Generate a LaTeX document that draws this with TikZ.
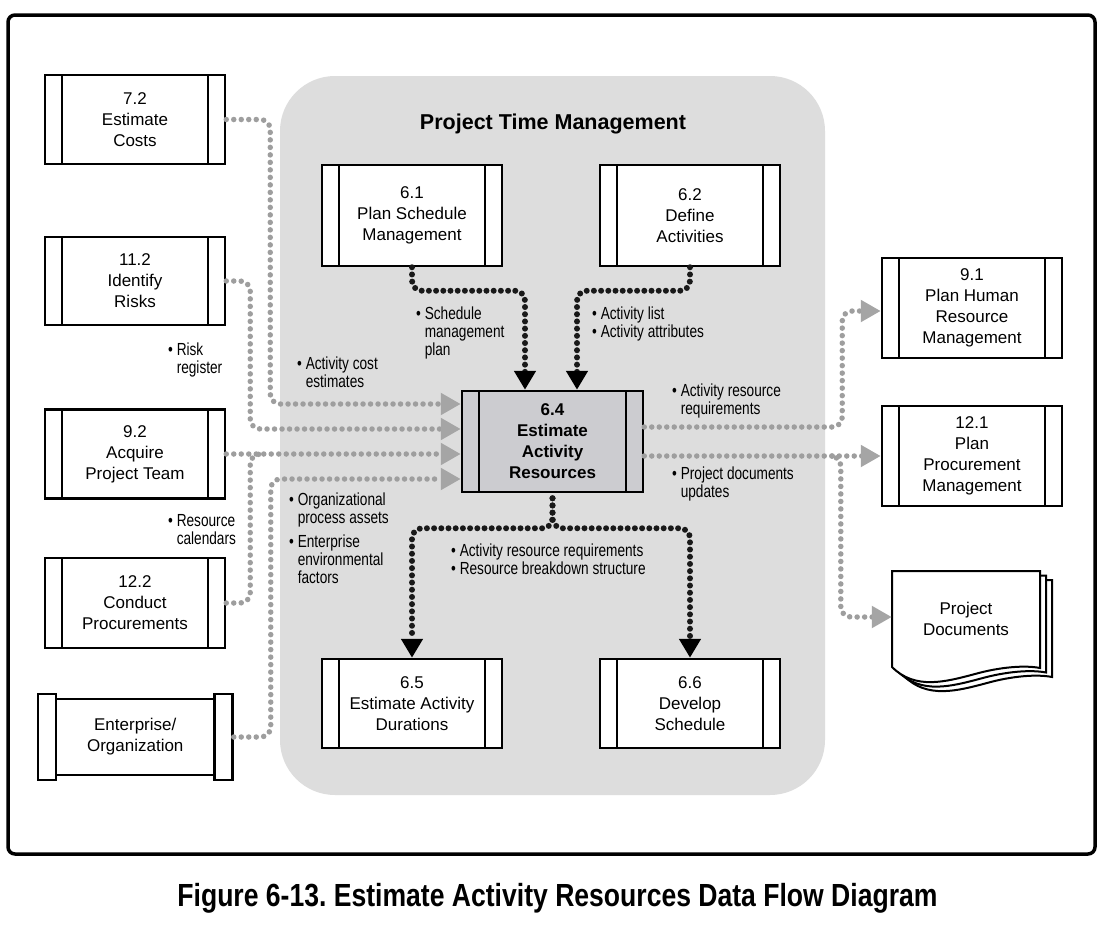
\documentclass[tikz,border=0pt]{standalone}
\usepackage{fontspec}
\setmainfont{Liberation Sans}
\newfontfamily\condf[FakeStretch=0.78]{Liberation Sans}
\newfontfamily\capf[FakeStretch=0.83]{Liberation Sans}
\usetikzlibrary{arrows.meta}
\frenchspacing
\definecolor{regiongray}{RGB}{221,221,221}
\definecolor{dotgray}{RGB}{158,158,158}
\definecolor{tipgray}{RGB}{165,165,165}
\definecolor{boxgray}{RGB}{204,204,208}
\definecolor{dotblack}{RGB}{25,25,25}
\newcommand{\blt}{\textbullet\ }
\newcommand{\indt}{\hphantom{\textbullet\ }}
\tikzset{
  proc/.style={draw, line width=2.5pt, fill=white, inner sep=0pt, minimum width=180pt,
    minimum height=89pt, align=center, font=\fontsize{17}{21}\selectfont,
    path picture={\draw[line width=2.5pt]
      ([xshift=17pt]path picture bounding box.north west) -- ([xshift=17pt]path picture bounding box.south west)
      ([xshift=-17pt]path picture bounding box.north east) -- ([xshift=-17pt]path picture bounding box.south east);}},
  lbl/.style={inner sep=0pt, anchor=north west, align=left, font=\condf\fontsize{17.5}{18}\selectfont},
  gdot/.style={draw=dotgray, line width=5.5pt, dash pattern=on 0pt off 7.5pt, line cap=round,
    rounded corners=10pt, -{Triangle[length=20pt,width=21pt,color=tipgray]}},
  gdotplain/.style={draw=dotgray, line width=5.5pt, dash pattern=on 0pt off 7.5pt, line cap=round,
    rounded corners=10pt},
  bdot/.style={draw=dotblack, line width=6pt, dash pattern=on 0pt off 7.2pt, line cap=round,
    rounded corners=10pt, -{Triangle[length=19pt,width=21pt,color=black]}},
  page/.style={draw, line width=2pt, fill=white},
}
\begin{document}
\begin{tikzpicture}[x=1pt,y=-1pt]
\useasboundingbox (0,0) rectangle (1117,929);
\fill[white] (0,0) rectangle (1117,929);
% outer frame
\draw[line width=3.5pt, rounded corners=7pt] (8,15) rectangle (1095,854);
% gray region
\fill[regiongray, rounded corners=55pt] (280,76) rectangle (825,795);
\node[font=\bfseries\fontsize{21.5}{24}\selectfont] (title) at (553,124) {Project Time Management};

% left boxes
\node[proc] (c72) at (135,119.5) {7.2\\Estimate\\Costs};
\node[proc, minimum height=88pt] (r112) at (135,281) {11.2\\Identify\\Risks};
\node[proc] (a92) at (135,454) {9.2\\Acquire\\Project Team};
\node[proc, minimum height=90pt] (p122) at (135,603) {12.2\\Conduct\\Procurements};
% enterprise / organization
\node[draw, line width=2.5pt, fill=white, inner sep=0pt, minimum width=18pt, minimum height=86pt] (eol) at (47,737) {};
\node[draw, line width=2.5pt, fill=white, inner sep=0pt, minimum width=18pt, minimum height=86pt] (eor) at (223.5,737) {};
\node[draw, line width=2.5pt, fill=white, inner sep=0pt, minimum width=158.5pt, minimum height=76pt,
  align=center, font=\fontsize{17}{21}\selectfont] (eo) at (135.25,737) {Enterprise/\\Organization};

% inner boxes
\node[proc, minimum height=101pt] (p61) at (412,215.5) {6.1\\Plan Schedule\\Management};
\node[proc, minimum height=101pt] (d62) at (690,215.5) {6.2\\Define\\Activities};
\node[proc, minimum height=101pt, minimum width=181pt, fill=boxgray,
  font=\bfseries\fontsize{17}{21}\selectfont] (e64) at (552.5,441.5) {6.4\\Estimate\\Activity\\Resources};
\node[proc] (e65) at (412,703.5) {6.5\\Estimate Activity\\Durations};
\node[proc] (d66) at (690,703.5) {6.6\\Develop\\Schedule};

% right boxes
\node[proc, minimum height=100pt] (h91) at (972,308) {9.1\\Plan Human\\Resource\\Management};
\node[proc, minimum height=100pt] (p121) at (972,456) {12.1\\Plan\\Procurement\\Management};

% project documents
\begin{scope}[shift={(12,9)}]
\draw[page] (892,571) -- (1040,571) -- (1040,668) .. controls (1025,665) and (1000,667) .. (975,674)
  .. controls (945,682) and (915,690) .. (892,667) -- cycle;
\end{scope}
\begin{scope}[shift={(6,4.5)}]
\draw[page] (892,571) -- (1040,571) -- (1040,668) .. controls (1025,665) and (1000,667) .. (975,674)
  .. controls (945,682) and (915,690) .. (892,667) -- cycle;
\end{scope}
\draw[page] (892,571) -- (1040,571) -- (1040,668) .. controls (1025,665) and (1000,667) .. (975,674)
  .. controls (945,682) and (915,690) .. (892,667) -- cycle;
\node[inner sep=0pt, minimum width=148pt, minimum height=96pt, align=center,
  font=\fontsize{17}{21}\selectfont] (docs) at (966,619) {Project\\Documents};

% gray input connectors
\draw[gdot] (c72.east) -- ++(44,0) |- ([yshift=37.5pt]e64.west);
\draw[gdot] (r112.east) -- ++(24,0) |- ([yshift=12.5pt]e64.west);
\draw[gdot] (a92.east) -- ([yshift=-12.5pt]e64.west);
\draw[gdotplain] (p122.east) -| ([xshift=24pt]a92.east) -- ([xshift=36pt]a92.east);
\draw[gdot] (eor.east) -- ++(37,0) |- ([yshift=-37.5pt]e64.west);

% gray output connectors
\draw[gdot] ([yshift=14.5pt]e64.east) -- ++(198,0) |- ([yshift=-3pt]h91.west);
\draw[gdot] ([yshift=-14.5pt]e64.east) -- (p121.west);
\draw[gdot] ([xshift=188pt,yshift=-14.5pt]e64.east) -| ([xshift=-51pt,yshift=2pt]docs.west) -- ([yshift=2pt]docs.west);

% black connectors
\draw[bdot] (p61.south) |- ([xshift=-27.5pt,yshift=99pt]e64.north) -- ([xshift=-27.5pt]e64.north);
\draw[bdot] (d62.south) |- ([xshift=24.5pt,yshift=99pt]e64.north) -- ([xshift=24.5pt]e64.north);
\draw[bdot] ([yshift=-5pt]e64.south) -- ([yshift=-35pt]e64.south) -| (e65.north);
\draw[bdot] ([yshift=-5pt]e64.south) -- ([yshift=-35pt]e64.south) -| (d66.north);

% labels
\node[lbl] (lsched) at (416,307) {\blt Schedule\\\indt management\\\indt plan};
\node[lbl] (lact) at (592,307) {\blt Activity list\\\blt Activity attributes};
\node[lbl] (lcost) at (297,357) {\blt Activity cost\\\indt estimates};
\node[lbl] (lrisk) at (168,343) {\blt Risk\\\indt register};
\node[lbl] (lopa) at (289,493) {\blt Organizational\\\indt process assets};
\node[lbl] (leef) at (289,535) {\blt Enterprise\\\indt environmental\\\indt factors};
\node[lbl] (lcal) at (168,514) {\blt Resource\\\indt calendars};
\node[lbl] (lrbs) at (451,544) {\blt Activity resource requirements\\\blt Resource breakdown structure};
\node[lbl] (lreq) at (672,384) {\blt Activity resource\\\indt requirements};
\node[lbl] (lpdu) at (672,467) {\blt Project documents\\\indt updates};

% caption
\node[font=\capf\bfseries\fontsize{32}{36}\selectfont] (cap) at (557.5,898) {Figure 6-13. Estimate Activity Resources Data Flow Diagram};
\end{tikzpicture}
\end{document}
